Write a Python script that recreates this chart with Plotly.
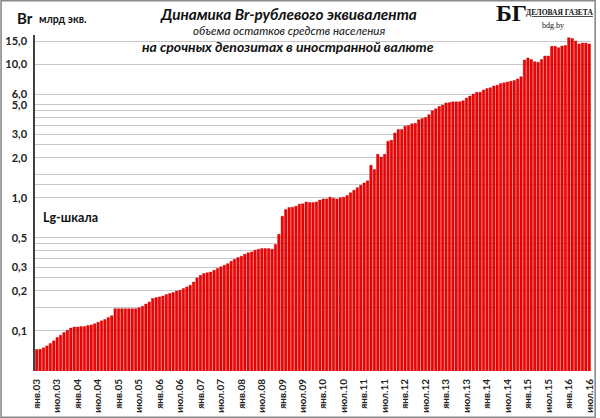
import plotly.graph_objects as go

# Monthly values, Jan 2003 .. Jul 2016 (млрд экв.)
values = [
    0.0725, 0.0729, 0.0746, 0.0772, 0.0804, 0.0842, 0.0892, 0.0928, 0.0972, 0.101, 0.105, 0.107,   # 2003
    0.107, 0.108, 0.108, 0.110, 0.111, 0.113, 0.116, 0.119, 0.122, 0.126, 0.130, 0.147,           # 2004
    0.147, 0.147, 0.147, 0.147, 0.147, 0.147, 0.149, 0.153, 0.159, 0.165, 0.175, 0.178,           # 2005
    0.180, 0.183, 0.1875, 0.191, 0.194, 0.199, 0.202, 0.208, 0.214, 0.220, 0.233, 0.250,          # 2006
    0.262, 0.270, 0.273, 0.277, 0.285, 0.294, 0.303, 0.311, 0.320, 0.334, 0.345, 0.356,           # 2007
    0.364, 0.377, 0.386, 0.392, 0.404, 0.410, 0.415, 0.415, 0.415, 0.410, 0.446, 0.532,           # 2008
    0.726, 0.815, 0.845, 0.850, 0.865, 0.895, 0.900, 0.930, 0.920, 0.920, 0.930, 0.960,           # 2009
    0.980, 0.980, 1.010, 0.990, 0.980, 1.000, 1.010, 1.040, 1.090, 1.140, 1.190, 1.240,           # 2010
    1.290, 1.340, 1.750, 1.630, 2.120, 2.020, 2.120, 2.660, 2.700, 3.060, 3.250, 3.260,           # 2011
    3.440, 3.480, 3.590, 3.620, 3.850, 3.940, 4.000, 4.200, 4.500, 4.650, 4.850, 4.960,           # 2012
    5.150, 5.180, 5.250, 5.250, 5.250, 5.350, 5.600, 5.800, 6.000, 6.200, 6.200, 6.450,           # 2013
    6.600, 6.700, 6.900, 7.000, 7.200, 7.300, 7.400, 7.500, 7.600, 7.800, 8.100, 10.80,           # 2014
    11.20, 10.90, 10.50, 10.40, 10.90, 11.60, 11.60, 13.70, 13.70, 13.40, 13.80, 13.90,           # 2015
    15.90, 15.70, 15.00, 14.30, 14.50, 14.50, 14.30,                                              # 2016
]

month_index = list(range(len(values)))

tick_positions = list(range(0, len(values), 6))
tick_labels = [
    "янв.03", "июл.03", "янв.04", "июл.04", "янв.05", "июл.05", "янв.06", "июл.06",
    "янв.07", "июл.07", "янв.08", "июл.08", "янв.09", "июл.09", "янв.10", "июл.10",
    "янв.11", "июл.11", "янв.12", "июл.12", "янв.13", "июл.13", "янв.14", "июл.14",
    "янв.15", "июл.15", "янв.16", "июл.16",
]

grid_values = [0.1, 0.15, 0.2, 0.25, 0.3, 0.35, 0.4, 0.45, 0.5,
               1.0, 1.25, 1.5, 2.0, 2.5, 3.0, 3.5, 4.0, 4.5, 5.0, 6.0, 10.0, 15.0, 16.5]
grid_labels = ["0,1", "", "0,2", "", "0,3", "", "", "", "0,5",
               "1,0", "", "", "2,0", "", "3,0", "", "", "", "5,0", "6,0", "10,0", "15,0", ""]

W, H = 600, 418
L, R, T, B = 35, 5, 35, 47
pw, ph = W - L - R, H - T - B


def px(xp):
    return (xp - L) / pw


def py(yp):
    return (H - B - yp) / ph


FONT = "Lato"

fig = go.Figure()
fig.add_trace(go.Bar(
    x=month_index, y=values,
    marker=dict(color="#f40000", line=dict(color="#b80000", width=0.4)),
    hoverinfo="skip",
))

fig.update_layout(
    width=W, height=H,
    margin=dict(l=L, r=R, t=T, b=B),
    paper_bgcolor="white", plot_bgcolor="white",
    showlegend=False,
    bargap=0.27,
    font=dict(family=FONT, color="#222222"),
)

fig.update_xaxes(
    range=[-0.5, len(values) - 0.5],
    tickmode="array", tickvals=tick_positions, ticktext=tick_labels,
    tickangle=-90, tickfont=dict(size=10, family=FONT, color="#222222", weight="bold"),
    showgrid=False, zeroline=False, showline=False, ticks="",
    ticklabelstandoff=5,
)

fig.update_yaxes(
    type="log", range=[-1.301, 1.222],
    tickmode="array", tickvals=grid_values, ticktext=grid_labels,
    tickfont=dict(size=11, family=FONT, color="#222222", weight="bold"),
    showgrid=True, gridcolor="#c8c8c8", gridwidth=1.4,
    showline=True, linecolor="#404040", linewidth=1.5,
    ticks="", zeroline=False, ticklabelstandoff=4,
)

shapes = [
    # white block behind the title (cuts the top gridline)
    dict(type="rect", xref="paper", yref="paper", layer="above",
         x0=px(147), x1=px(438), y0=py(38), y1=py(0),
         fillcolor="white", line=dict(width=0)),
    # outer frame
    dict(type="rect", xref="paper", yref="paper", layer="above",
         x0=px(0.8), x1=px(W - 0.8), y0=py(H - 0.8), y1=py(0.8),
         line=dict(color="#8a8a8a", width=1.6)),
]

annotations = [
    dict(text="<b><i>Динамика Br-рублевого эквивалента</i></b>", x=px(290), y=py(14),
         font=dict(size=15.3, family=FONT, color="#111111")),
    dict(text="<i>объема остатков средств населения</i>", x=px(291), y=py(30),
         font=dict(size=11.5, family=FONT, color="#111111")),
    dict(text="<b><i>на срочных депозитах в иностранной валюте</i></b>", x=px(290), y=py(46),
         font=dict(size=14, family=FONT, color="#111111")),
    dict(text="<b>Br</b>", x=px(25), y=py(18),
         font=dict(size=15, family=FONT, color="#111111")),
    dict(text="<b>млрд экв.</b>", x=px(63), y=py(19),
         font=dict(size=10.5, family=FONT, color="#111111")),
    dict(text="<b>Lg-шкала</b>", x=px(71), y=py(217),
         font=dict(size=12.5, family=FONT, color="#111111")),
    dict(text="<b>БГ</b>", x=px(515), y=py(13),
         font=dict(size=24, family="Liberation Serif", color="#111111")),
    dict(text="<b><u>ДЕЛОВАЯ ГАЗЕТА</u></b>", x=px(563), y=py(12),
         font=dict(size=7.5, family="Liberation Serif", color="#111111")),
    dict(text="bdg.by", x=px(557), y=py(25),
         font=dict(size=8, family="Liberation Serif", color="#111111")),
]
for a in annotations:
    a.update(xref="paper", yref="paper", showarrow=False, xanchor="center", yanchor="middle")

fig.update_layout(shapes=shapes, annotations=annotations)

fig.write_html(
    "out.html",
    config={"displayModeBar": False},
    post_script="document.body.style.margin='0';document.body.style.overflow='hidden';",
)
